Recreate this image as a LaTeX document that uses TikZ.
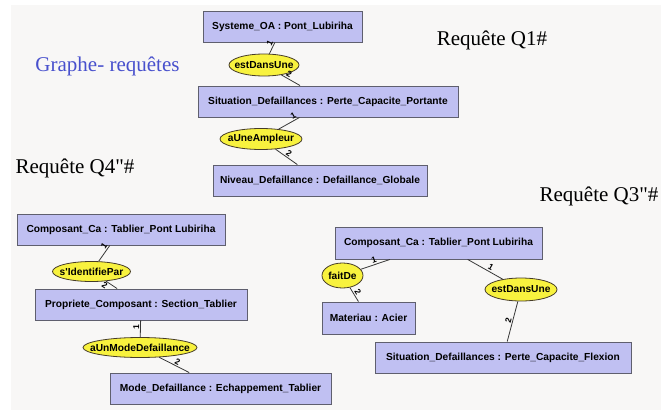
\documentclass[tikz,border=0pt]{standalone}
\usepackage{fontspec}
\setmainfont{Liberation Serif}
\setsansfont{Liberation Sans}
\usetikzlibrary{shapes.geometric}
\definecolor{fond}{RGB}{248,247,246}
\definecolor{lavande}{RGB}{192,192,242}
\definecolor{jaune}{RGB}{248,242,62}
\definecolor{bordGris}{RGB}{95,95,110}
\definecolor{bordEll}{RGB}{70,60,40}
\definecolor{trait}{RGB}{55,55,55}
\definecolor{bleuTitre}{RGB}{72,80,205}
\newcommand{\relnom}[1]{\makebox[0pt]{#1}}

\begin{document}
\begin{tikzpicture}[x=1pt, y=-1pt,
  concept/.style={draw=bordGris, line width=0.9pt, fill=lavande, minimum height=31pt, inner sep=0pt, font=\sffamily\bfseries\fontsize{10.2}{12}\selectfont},
  relation/.style={ellipse, draw=bordEll, line width=0.8pt, fill=jaune, inner sep=0pt, minimum height=21pt, font=\sffamily\bfseries\fontsize{10.2}{12}\selectfont},
  arc/.style={draw=trait, line width=0.8pt},
  role/.style={font=\sffamily\bfseries\fontsize{8.5}{8.5}\selectfont, inner sep=1pt, sloped},
  requete/.style={font=\fontsize{21}{24}\selectfont, inner sep=0pt}]
\useasboundingbox (0,0) rectangle (661,412);
\fill[white] (0,0) rectangle (661,412);
\fill[fond] (11,5) rectangle (661,410);

\node[requete, text=bleuTitre] (graphe) at (107.5,66) {Graphe- requêtes};
\node[requete] (q1) at (492,40) {Requête Q1\#};
\node[requete] (q4) at (75,168) {Requête Q4\textquotedbl\#};
\node[requete] (q3) at (599,196) {Requête Q3\textquotedbl\#};

% Requete Q1
\node[concept, minimum width=159pt] (so) at (282.5,26.5) {Systeme\_OA : Pont\_Lubiriha};
\node[relation, minimum width=70pt, minimum height=22pt] (e1) at (264,65) {\relnom{estDansUne}};
\node[concept, minimum width=260pt] (sdp) at (328,101.5) {Situation\_Defaillances : Perte\_Capacite\_Portante};
\node[relation, minimum width=82pt] (e2) at (261,139) {\relnom{aUneAmpleur}};
\node[concept, minimum width=214pt] (nd) at (320,180.5) {Niveau\_Defaillance : Defaillance\_Globale};

% Requete Q4
\node[concept, minimum width=208pt] (cc1) at (121,229.5) {Composant\_Ca : Tablier\_Pont Lubiriha};
\node[relation, minimum width=78pt, minimum height=20pt] (e3) at (91.5,271.5) {\relnom{s\textquotesingle IdentifiePar}};
\node[concept, minimum width=212pt] (pc) at (141,304.5) {Propriete\_Composant : Section\_Tablier};
\node[relation, minimum width=114pt, minimum height=20pt] (e4) at (140,347.5) {\relnom{aUnModeDefaillance}};
\node[concept, minimum width=221pt] (md) at (220.5,388.5) {Mode\_Defaillance : Echappement\_Tablier};

% Requete Q3
\node[concept, minimum width=207pt, minimum height=32pt] (cc2) at (438.5,243) {Composant\_Ca : Tablier\_Pont Lubiriha};
\node[relation, minimum width=41pt, minimum height=25pt] (e5) at (342.5,275.5) {\relnom{faitDe}};
\node[concept, minimum width=93pt, minimum height=32pt] (mat) at (368.5,318) {Materiau : Acier};
\node[relation, minimum width=72pt, minimum height=23pt] (e6) at (521,289.5) {\relnom{estDansUne}};
\node[concept, minimum width=256pt] (sdf) at (503,357.5) {Situation\_Defaillances : Perte\_Capacite\_Flexion};

\draw[arc] (so) -- node[role, pos=.2, above]{1} (e1);
\draw[arc] (e1) -- node[role, pos=.3, above]{2} (sdp);
\draw[arc] (sdp) -- node[role, pos=.2, above]{1} (e2);
\draw[arc] (e2) -- node[role, pos=.5, above]{2} (nd);

\draw[arc] (cc1) -- node[role, pos=.2, above]{1} (e3);
\draw[arc] (e3) -- node[role, pos=.1, below]{2} (pc);
\draw[arc] (pc) -- node[role, pos=.4, above]{1} (e4);
\draw[arc] (e4) -- node[role, pos=.55, above]{2} (md);

\draw[arc] (cc2) -- node[role, pos=.5, above]{1} (e5);
\draw[arc] (e5) -- node[role, pos=.5, above]{2} (mat);
\draw[arc] (cc2) -- node[role, pos=.6, above]{1} (e6);
\draw[arc] (e6) -- node[role, pos=.5, above]{2} (sdf);
\end{tikzpicture}
\end{document}
